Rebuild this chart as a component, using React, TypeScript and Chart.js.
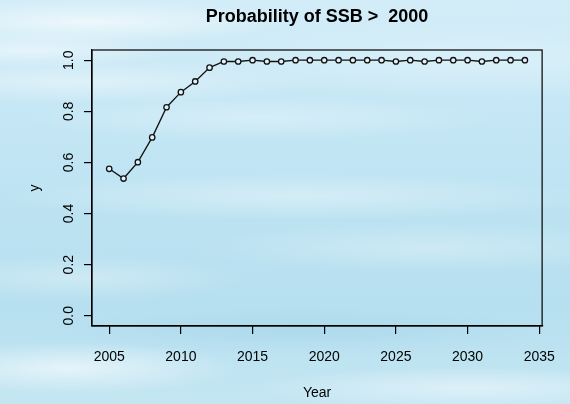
import React, { useEffect, useRef } from "react";
import { Chart, registerables } from "chart.js";

Chart.register(...registerables);

const years: number[] = [
  2005, 2006, 2007, 2008, 2009, 2010, 2011, 2012, 2013, 2014,
  2015, 2016, 2017, 2018, 2019, 2020, 2021, 2022, 2023, 2024,
  2025, 2026, 2027, 2028, 2029, 2030, 2031, 2032, 2033, 2034,
];
const probability: number[] = [
  0.575, 0.537, 0.601, 0.698, 0.816, 0.875, 0.917, 0.971, 0.995, 0.995,
  1.0, 0.995, 0.995, 1.0, 1.0, 1.0, 1.0, 1.0, 1.0, 1.0,
  0.995, 1.0, 0.995, 1.0, 1.0, 1.0, 0.995, 1.0, 1.0, 1.0,
];
const xTicks: number[] = [2005, 2010, 2015, 2020, 2025, 2030, 2035];
const yTicks: number[] = [0, 0.2, 0.4, 0.6, 0.8, 1.0];

const titleText = "Probability of SSB >  2000";
const xTitle = "Year";
const yTitle = "y";

const FONT = "'Liberation Sans', Arial, Helvetica, sans-serif";

const boxPlugin = {
  id: "rbox",
  afterDraw(chart: any) {
    const { ctx, chartArea } = chart;
    ctx.save();
    ctx.strokeStyle = "#000";
    ctx.lineWidth = 1.2;
    ctx.strokeRect(chartArea.left, chartArea.top, chartArea.right - chartArea.left, chartArea.bottom - chartArea.top);
    ctx.restore();
  },
};

const bg = [
  "radial-gradient(ellipse 200px 22px at 90px 22px, rgba(255,255,255,0.6), rgba(255,255,255,0))",
  "radial-gradient(ellipse 150px 18px at 30px 50px, rgba(255,255,255,0.5), rgba(255,255,255,0))",
  "radial-gradient(ellipse 240px 22px at 80px 82px, rgba(255,255,255,0.4), rgba(255,255,255,0))",
  "radial-gradient(ellipse 240px 22px at 260px 118px, rgba(255,255,255,0.3), rgba(255,255,255,0))",
  "radial-gradient(ellipse 300px 24px at 300px 196px, rgba(255,255,255,0.35), rgba(255,255,255,0))",
  "radial-gradient(ellipse 240px 26px at 430px 248px, rgba(255,255,255,0.28), rgba(255,255,255,0))",
  "radial-gradient(ellipse 170px 24px at 80px 278px, rgba(255,255,255,0.3), rgba(255,255,255,0))",
  "radial-gradient(ellipse 170px 26px at 70px 368px, rgba(255,255,255,0.6), rgba(255,255,255,0))",
  "radial-gradient(ellipse 220px 22px at 470px 388px, rgba(255,255,255,0.45), rgba(255,255,255,0))",
  "radial-gradient(ellipse 260px 24px at 300px 330px, rgba(150,205,228,0.35), rgba(150,205,228,0))",
  "radial-gradient(ellipse 300px 40px at 480px 60px, rgba(235,248,253,0.45), rgba(235,248,253,0))",
  "linear-gradient(180deg, #d3edf8 0%, #c6e7f5 25%, #bde3f2 50%, #b6dfef 75%, #c4e6f3 100%)",
].join(", ");

export default function App() {
  const ref = useRef<HTMLCanvasElement | null>(null);

  useEffect(() => {
    if (!ref.current) return;
    const chart = new Chart(ref.current, {
      type: "line",
      data: {
        datasets: [
          {
            data: years.map((x, i) => ({ x, y: probability[i] })),
            borderColor: "#111",
            borderWidth: 1.3,
            pointRadius: 2.7,
            pointBorderWidth: 1.3,
            pointBorderColor: "#111",
            pointBackgroundColor: "#dff1f9",
            tension: 0,
          },
        ],
      },
      options: {
        responsive: false,
        animation: false,
        devicePixelRatio: 1,
        layout: { padding: { left: 0, right: 21, top: 0, bottom: 0 } },
        plugins: {
          legend: { display: false },
          tooltip: { enabled: false },
          title: {
            display: true,
            text: titleText,
            fullSize: false,
            color: "#000",
            font: { family: FONT, size: 18, weight: "bold", lineHeight: 1.2 },
            padding: { top: 6.5, bottom: 21.9 },
          },
        },
        scales: {
          x: {
            type: "linear",
            min: 2003.8,
            max: 2035.2,
            afterFit: (s: any) => { s.height = 78; },
            afterBuildTicks: (s: any) => { s.ticks = xTicks.map((v) => ({ value: v })); },
            grid: { drawOnChartArea: false, drawTicks: true, tickLength: 8, color: "#000", lineWidth: 1.2 },
            border: { display: true, color: "#000", width: 1.2 },
            ticks: {
              color: "#000",
              font: { family: FONT, size: 14 },
              padding: 15,
              maxRotation: 0,
              autoSkip: false,
              callback: (v: any) => String(v),
            },
            title: {
              display: true,
              text: xTitle,
              color: "#000",
              font: { family: FONT, size: 14 },
              padding: { top: 0, bottom: 2 },
            },
          },
          y: {
            type: "linear",
            min: -0.04,
            max: 1.04,
            afterFit: (s: any) => { s.width = 92; },
            afterBuildTicks: (s: any) => { s.ticks = yTicks.map((v) => ({ value: v })); },
            grid: { drawOnChartArea: false, drawTicks: true, tickLength: 8, color: "#000", lineWidth: 1.2 },
            border: { display: true, color: "#000", width: 1.2 },
            ticks: {
              color: "#000",
              font: { family: FONT, size: 14 },
              padding: 4.8,
              minRotation: 90,
              maxRotation: 90,
              crossAlign: "center",
              autoSkip: false,
              callback: (v: any) => Number(v).toFixed(1),
            },
            title: {
              display: true,
              text: yTitle,
              color: "#000",
              font: { family: FONT, size: 14 },
              padding: { top: 26.6, bottom: 0 },
            },
          },
        },
      },
      plugins: [boxPlugin],
    } as any);
    return () => chart.destroy();
  }, []);

  return (
    <div style={{ position: "absolute", left: 0, top: 0, width: 570, height: 404, background: bg, overflow: "hidden" }}>
      <canvas ref={ref} width={570} height={404} style={{ display: "block" }} />
    </div>
  );
}
